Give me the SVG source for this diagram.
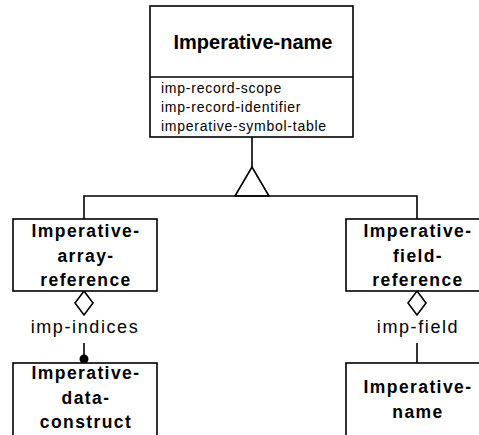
<svg xmlns="http://www.w3.org/2000/svg" width="479" height="435" viewBox="0 0 479 435">
<style>
.box{fill:#fff;stroke:#000;stroke-width:1.6}
.ln{fill:none;stroke:#000;stroke-width:1.6}
.t{font-family:"Liberation Sans",Arial,sans-serif;font-weight:bold;font-size:17.5px;letter-spacing:1.4px;text-anchor:middle;fill:#000}
.title{font-family:"Liberation Sans",Arial,sans-serif;font-weight:bold;font-size:20px;letter-spacing:0px;text-anchor:middle;fill:#000}
.attr{font-family:"Liberation Sans",Arial,sans-serif;font-size:14px;letter-spacing:0.75px;fill:#000}
.lbl{font-family:"Liberation Sans",Arial,sans-serif;font-size:18px;letter-spacing:1.6px;text-anchor:middle;fill:#000}
</style>
<rect width="479" height="435" fill="#fff"/>
<g id="connectors">
<line class="ln" x1="252" y1="137" x2="252" y2="167"/>
<polygon class="ln" points="252,167 235,196 269,196" style="fill:#fff"/>
<polyline class="ln" points="84,219 84,196 417,196 417,219"/>
<polygon class="ln" points="84,291 93,303 84,315 75,303" style="fill:#fff"/>
<polygon class="ln" points="417,291 426,303 417,315 408,303" style="fill:#fff"/>
<line class="ln" x1="84" y1="343" x2="84" y2="359"/>
<circle cx="84" cy="359" r="4.5" fill="#000"/>
<line class="ln" x1="417" y1="343" x2="417" y2="363"/>
<text class="lbl" x="85" y="333">imp-indices</text>
<text class="lbl" x="418" y="333">imp-field</text>
</g>
<g id="imperative-name-top">
<rect class="box" x="150" y="6" width="203" height="131"/>
<line class="ln" x1="150" y1="77" x2="353" y2="77"/>
<text class="title" x="253" y="49">Imperative-name</text>
<text class="attr" x="161" y="93">imp-record-scope</text>
<text class="attr" x="161" y="112">imp-record-identifier</text>
<text class="attr" x="161" y="131">imperative-symbol-table</text>
</g>
<g id="imperative-array-reference">
<rect class="box" x="13" y="219" width="144" height="72"/>
<text class="t" x="86" y="237">Imperative-</text>
<text class="t" x="86" y="262">array-</text>
<text class="t" x="86" y="286">reference</text>
</g>
<g id="imperative-field-reference">
<rect class="box" x="346" y="219" width="142" height="72"/>
<text class="t" x="418" y="237">Imperative-</text>
<text class="t" x="418" y="262">field-</text>
<text class="t" x="418" y="286">reference</text>
</g>
<g id="imperative-data-construct">
<rect class="box" x="13" y="363" width="144" height="80"/>
<text class="t" x="86" y="379">Imperative-</text>
<text class="t" x="86" y="404">data-</text>
<text class="t" x="86" y="428">construct</text>
</g>
<g id="imperative-name-bottom">
<rect class="box" x="346" y="363" width="142" height="80"/>
<text class="t" x="418" y="393">Imperative-</text>
<text class="t" x="418" y="418">name</text>
</g>
</svg>
